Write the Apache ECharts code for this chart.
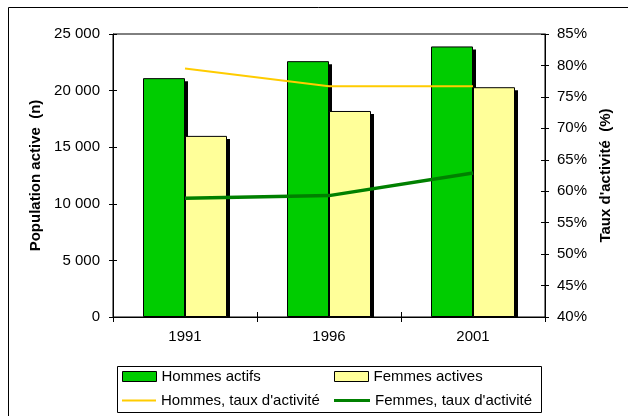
<!DOCTYPE html>
<html>
<head>
<meta charset="utf-8">
<script src="https://cdn.jsdelivr.net/npm/echarts@6/dist/echarts.min.js"></script>
<style>html,body{margin:0;padding:0;background:#fff}#c{width:628px;height:416px}</style>
</head>
<body>
<div id="c"></div>
<script>
const years = ['1991', '1996', '2001'];
const hommesActifs = [21100, 22600, 23900];
const femmesActives = [16000, 18200, 20300];
const hommesTaux = [79.5, 76.7, 76.7];
const femmesTaux = [58.9, 59.3, 62.9];
const seriesNames = ['Hommes actifs', 'Femmes actives', 'Hommes, taux d\'activité', 'Femmes, taux d\'activité'];

const FONT = 'Liberation Sans, Arial, sans-serif';
const BW = 42;
const GREEN = '#00CC00', YELLOW = '#FFFF99', LINE_Y = '#FFCC00', LINE_G = '#008000';

function fmtThousands(v) { return String(v).replace(/\B(?=(\d{3})+(?!\d))/g, ' '); }

function shadowRenderer(offset) {
  return function (params, api) {
    const i = api.value(0), v = api.value(1);
    const top = api.coord([i, v]);
    const base = api.coord([i, 0]);
    return {
      type: 'rect',
      shape: { x: top[0] + offset + 3, y: top[1] + 3, width: BW, height: base[1] - top[1] - 3 },
      style: { fill: '#000' }
    };
  };
}

const chart = echarts.init(document.getElementById('c'), null, { renderer: 'canvas' });
const labelStyle = { color: '#000', fontSize: 15, fontFamily: FONT };
const lineAx = { show: true, lineStyle: { color: '#000', width: 1 } };

chart.setOption({
  backgroundColor: '#fff',
  animation: false,
  textStyle: { fontFamily: FONT },
  grid: { left: 113, right: 83, top: 34, bottom: 99, show: true, borderColor: '#000', borderWidth: 1, backgroundColor: 'transparent' },
  graphic: [
    { type: 'rect', shape: { x: 8.5, y: 7.5, width: 700, height: 500 }, style: { fill: 'none', stroke: '#000', lineWidth: 1 }, z: 100 },
    { type: 'rect', shape: { x: 117.5, y: 366.5, width: 424, height: 46 }, style: { fill: 'none', stroke: '#000', lineWidth: 1 }, z: 100 }
  ],
  xAxis: [
    { type: 'category', data: years, position: 'bottom', axisLine: lineAx,
      axisTick: { show: true, length: 5, lineStyle: { color: '#000' } },
      axisLabel: Object.assign({ margin: 12 }, labelStyle) },
    { type: 'category', data: years, position: 'bottom', axisLine: { show: false },
      axisTick: { show: true, inside: true, length: 5, lineStyle: { color: '#000' } },
      axisLabel: { show: false } }
  ],
  yAxis: [
    { type: 'value', position: 'left', min: 0, max: 25000, interval: 5000,
      axisLine: lineAx, axisTick: { show: true, length: 4, lineStyle: { color: '#000' } },
      splitLine: { show: false },
      axisLabel: Object.assign({ margin: 13, formatter: fmtThousands }, labelStyle),
      name: 'Population active  (n)', nameLocation: 'middle', nameRotate: 90, nameGap: 68,
      nameTextStyle: { color: '#000', fontSize: 15, fontWeight: 'bold', fontFamily: FONT } },
    { type: 'value', position: 'right', min: 40, max: 85, interval: 5,
      axisLine: lineAx, axisTick: { show: true, length: 4, lineStyle: { color: '#000' } },
      splitLine: { show: false },
      axisLabel: Object.assign({ margin: 12, formatter: '{value}%' }, labelStyle),
      name: 'Taux d\'activité  (%)', nameLocation: 'middle', nameRotate: 90, nameGap: 51,
      nameTextStyle: { color: '#000', fontSize: 15, fontWeight: 'bold', fontFamily: FONT } },
    { type: 'value', position: 'left', min: 0, max: 25000, interval: 5000,
      axisLine: { show: false }, axisTick: { show: true, inside: true, length: 4, lineStyle: { color: '#000' } },
      splitLine: { show: false }, axisLabel: { show: false } },
    { type: 'value', position: 'right', min: 40, max: 85, interval: 5,
      axisLine: { show: false }, axisTick: { show: true, inside: true, length: 4, lineStyle: { color: '#000' } },
      splitLine: { show: false }, axisLabel: { show: false } }
  ],
  legend: [
    { data: [{ name: seriesNames[0], icon: 'rect' }], left: 122, top: 369, padding: 0, itemWidth: 34, itemHeight: 10,
      textStyle: labelStyle, itemStyle: { color: GREEN, borderColor: '#000', borderWidth: 1 } },
    { data: [{ name: seriesNames[1], icon: 'rect' }], left: 334, top: 369, padding: 0, itemWidth: 34, itemHeight: 10,
      textStyle: labelStyle, itemStyle: { color: YELLOW, borderColor: '#000', borderWidth: 1 } },
    { data: [{ name: seriesNames[2], icon: 'rect' }], left: 122, top: 393, padding: 0, itemWidth: 34, itemHeight: 2,
      textStyle: labelStyle, itemStyle: { color: LINE_Y, borderWidth: 0 } },
    { data: [{ name: seriesNames[3], icon: 'rect' }], left: 334, top: 393, padding: 0, itemWidth: 36, itemHeight: 3,
      textStyle: labelStyle, itemStyle: { color: LINE_G, borderWidth: 0 } }
  ],
  series: [
    { type: 'custom', xAxisIndex: 0, yAxisIndex: 0, z: 1, silent: true,
      data: hommesActifs.map((v, i) => [i, v]), renderItem: shadowRenderer(-BW) },
    { type: 'custom', xAxisIndex: 0, yAxisIndex: 0, z: 1, silent: true,
      data: femmesActives.map((v, i) => [i, v]), renderItem: shadowRenderer(0) },
    { name: seriesNames[0], type: 'bar', xAxisIndex: 0, yAxisIndex: 0, data: hommesActifs, barWidth: BW, barGap: '0%', z: 2,
      itemStyle: { color: GREEN, borderColor: '#000', borderWidth: 1 } },
    { name: seriesNames[1], type: 'bar', xAxisIndex: 0, yAxisIndex: 0, data: femmesActives, barWidth: BW, barGap: '0%', z: 2,
      itemStyle: { color: YELLOW, borderColor: '#000', borderWidth: 1 } },
    { name: seriesNames[2], type: 'line', xAxisIndex: 0, yAxisIndex: 1, data: hommesTaux, symbol: 'none', z: 3, color: LINE_Y,
      lineStyle: { color: LINE_Y, width: 2 } },
    { name: seriesNames[3], type: 'line', xAxisIndex: 0, yAxisIndex: 1, data: femmesTaux, symbol: 'none', z: 3, color: LINE_G,
      lineStyle: { color: LINE_G, width: 3.5 } }
  ]
});
</script>
</body>
</html>
